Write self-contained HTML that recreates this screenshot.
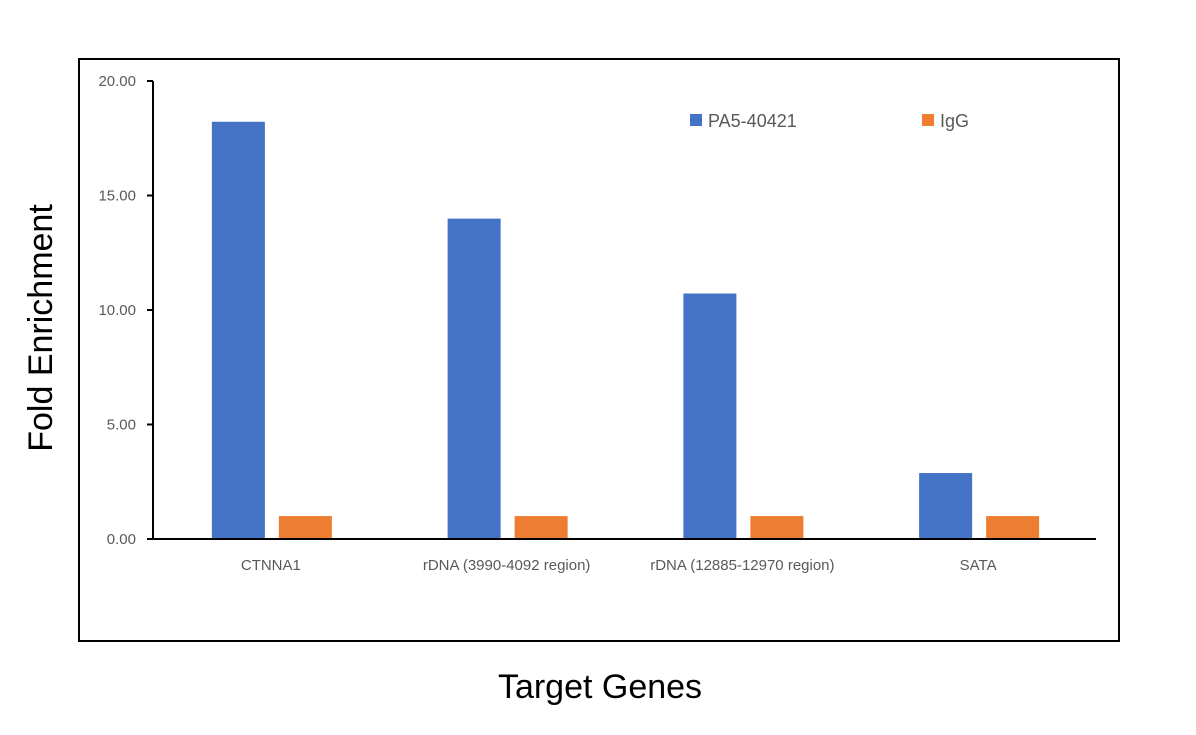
<!DOCTYPE html>
<html><head><meta charset="utf-8"><style>
html,body{margin:0;padding:0;background:#fff;}
svg{display:block;font-family:"Liberation Sans",sans-serif;}
</style></head><body>
<svg id="chart" width="1196" height="735" viewBox="0 0 1196 735">
<rect x="79" y="59" width="1040" height="582" fill="#fff" stroke="#000" stroke-width="2"/>
<g id="yaxis"></g>
<g id="bars"></g>
<g id="xaxis"></g>
<text x="52" y="328" transform="rotate(-90 52 328)" text-anchor="middle" font-size="34" fill="#000">Fold Enrichment</text>
<text x="600" y="698" text-anchor="middle" font-size="34" fill="#000">Target Genes</text>
<g>
<rect x="690" y="114" width="12" height="12" fill="#4472c4"/>
<text x="708" y="127" font-size="18" fill="#595959">PA5-40421</text>
<rect x="922" y="114" width="12" height="12" fill="#ed7d31"/>
<text x="940" y="127" font-size="18" fill="#595959">IgG</text>
</g>
</svg>
<script>
const categories = ["CTNNA1","rDNA (3990-4092 region)","rDNA (12885-12970 region)","SATA"];
const pa5Values = [18.22, 13.99, 10.72, 2.88];
const iggValues = [1.0, 1.0, 1.0, 1.0];
const yTicks = [0, 5, 10, 15, 20];
const yTickLabels = ["0.00","5.00","10.00","15.00","20.00"];

const NS = "http://www.w3.org/2000/svg";
const X0 = 153, X1 = 1096, Y0 = 539, Y1 = 81, YMAX = 20;
function yScale(v){ return Y0 - (v / YMAX) * (Y0 - Y1); }
const band = (X1 - X0) / categories.length;
function xCenter(i){ return X0 + band * (i + 0.5); }
function mk(tag, attrs, parent){ const e = document.createElementNS(NS, tag); for (const k in attrs) e.setAttribute(k, attrs[k]); parent.appendChild(e); return e; }

const yg = document.getElementById("yaxis");
const bg = document.getElementById("bars");
const xg = document.getElementById("xaxis");

yTicks.forEach((t, i) => {
  const y = yScale(t);
  const tk = mk("line", {x1: X0 - 6, x2: X0, y1: y, y2: y, stroke: "#000", "stroke-width": 2}, yg);
  
  
  const lb = mk("text", {x: 136, y: y + 5, "text-anchor": "end", "font-size": 15, fill: "#595959"}, yg);
  lb.textContent = yTickLabels[i];
  
  
});
const yl = mk("line", {x1: X0, x2: X0, y1: Y1, y2: Y0, stroke: "#000", "stroke-width": 2}, yg);



categories.forEach((c, i) => {
  const cx = xCenter(i);
  const b1 = mk("rect", {x: cx - 59, y: yScale(pa5Values[i]), width: 53, height: Y0 - yScale(pa5Values[i]), fill: "#4472c4"}, bg);
  
  
  const b2 = mk("rect", {x: cx + 8, y: yScale(iggValues[i]), width: 53, height: Y0 - yScale(iggValues[i]), fill: "#ed7d31"}, bg);
  
  
  const lb = mk("text", {x: cx, y: 570, "text-anchor": "middle", "font-size": 15, fill: "#595959"}, xg);
  lb.textContent = c;
  
  
});
const xl = mk("line", {x1: X0 - 6, x2: X1, y1: Y0, y2: Y0, stroke: "#000", "stroke-width": 2}, xg);


</script>
</body></html>
